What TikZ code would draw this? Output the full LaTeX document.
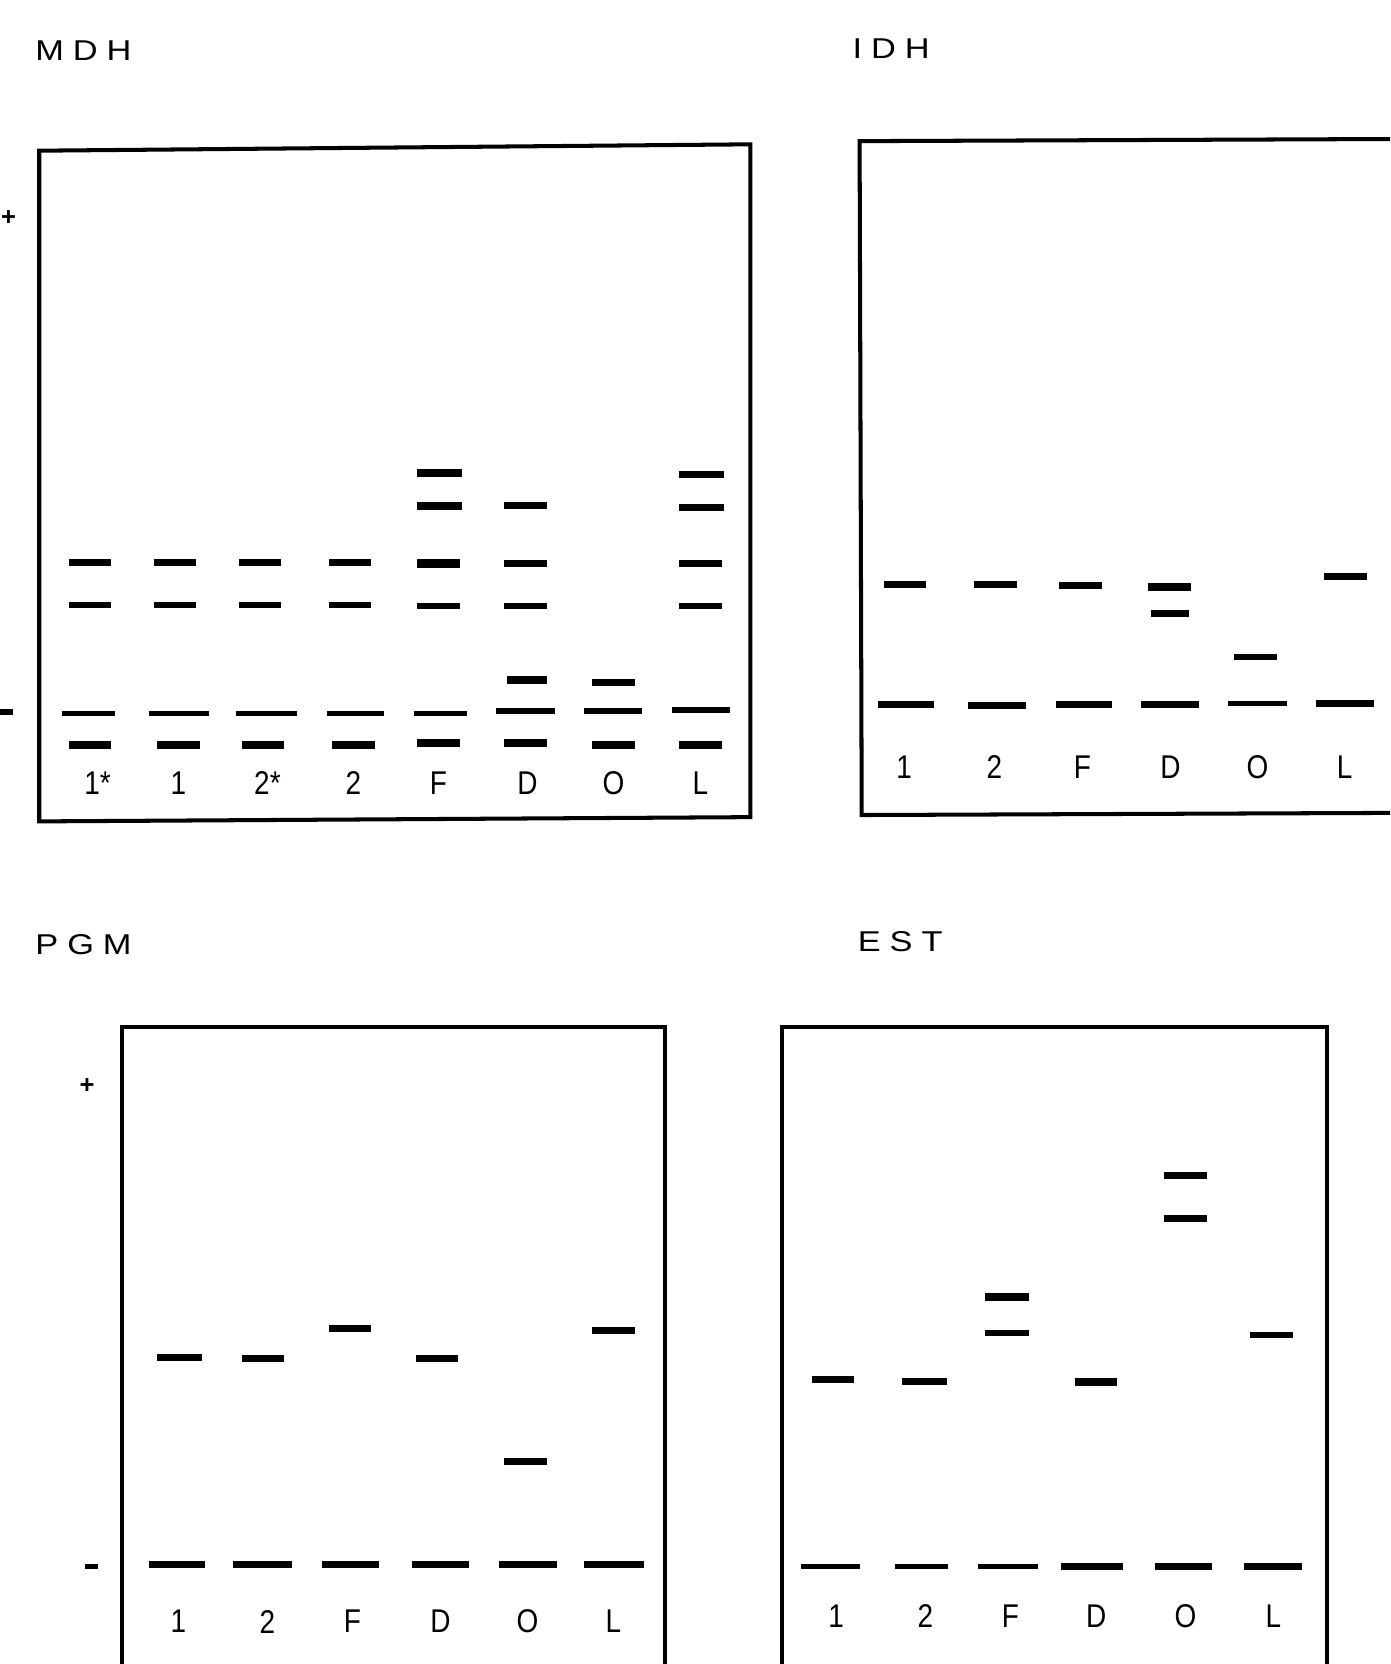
\documentclass[tikz,border=0pt]{standalone}
\usepackage{fontspec}
\setmainfont{Liberation Sans}
\newcommand\bnd[3]{\draw[bandst] (#1,#3) -- (#2,#3);}
\newcommand\bndt[3]{\draw[bandst,line width=2.4pt] (#1,#3) -- (#2,#3);}
\newcommand\bndk[3]{\draw[bandst,line width=3.8pt] (#1,#3) -- (#2,#3);}
\begin{document}
\begin{tikzpicture}[x=0.5pt,y=-0.5pt,
  gelbox/.style={line width=1.9pt,line join=miter},
  bandst/.style={line width=3.2pt,line cap=butt},
  minusst/.style={line width=2.6pt,line cap=butt},
  titlest/.style={anchor=west,inner sep=0pt,font=\fontsize{13.5}{13.5}\selectfont},
  lanest/.style={inner sep=0pt,font=\fontsize{15.5}{15.5}\selectfont},
  markst/.style={inner sep=0pt,font=\bfseries\fontsize{12}{12}\selectfont}]
\useasboundingbox (0,0) rectangle (1310,1568);
% ---------------- MDH ----------------
\node[titlest] (tMDH) at (33,48) {\scalebox{1.2}[1]{M\hspace{3.5pt}D\hspace{3.5pt}H}};
\draw[gelbox] (37,142) -- (707,136) -- (707,770) -- (37,774) -- cycle;
\node[markst] (mpA) at (8,205) {+};
\coordinate (mmA1) at (0,671); \coordinate (mmA2) at (12,671);
\draw[minusst] (mmA1) -- (mmA2);
\bnd{65}{105}{530}\bnd{65}{105}{570}\bndt{58}{108}{672}\bndk{65}{105}{702}
\bnd{145}{185}{530}\bnd{145}{185}{570}\bndt{140}{197}{672}\bndk{148}{188}{702}
\bnd{225}{265}{530}\bnd{225}{265}{570}\bndt{222}{280}{672}\bndk{228}{268}{702}
\bnd{310}{350}{530}\bnd{310}{350}{570}\bndt{308}{362}{672}\bndk{313}{353}{702}
\bndk{393}{435}{446}\bndk{393}{435}{477}\bndk{393}{433}{531}\bnd{393}{433}{571}\bndt{390}{440}{672}\bndk{393}{433}{700}
\bnd{475}{515}{476}\bnd{475}{515}{531}\bnd{475}{515}{571}\bndk{478}{515}{641}\bndt{467}{523}{670}\bndk{475}{515}{700}
\bnd{558}{598}{643}\bndt{550}{605}{670}\bndk{558}{598}{702}
\bnd{640}{682}{447}\bnd{640}{682}{478}\bnd{640}{680}{531}\bnd{640}{680}{571}\bndt{633}{688}{669}\bndk{640}{680}{702}
\node[lanest] (a1s) at (92,738) {\scalebox{0.85}[1]{1*}};
\node[lanest] (a1) at (168,738) {\scalebox{0.85}[1]{1}};
\node[lanest] (a2s) at (252,738) {\scalebox{0.85}[1]{2*}};
\node[lanest] (a2) at (333,738) {\scalebox{0.85}[1]{2}};
\node[lanest] (aF) at (413,738) {\scalebox{0.85}[1]{F}};
\node[lanest] (aD) at (497,738) {\scalebox{0.85}[1]{D}};
\node[lanest] (aO) at (578,738) {\scalebox{0.85}[1]{O}};
\node[lanest] (aL) at (660,738) {\scalebox{0.85}[1]{L}};
% ---------------- IDH ----------------
\node[titlest] (tIDH) at (803,46) {\scalebox{1.2}[1]{I\hspace{3.5pt}D\hspace{3.5pt}H}};
\draw[gelbox] (1310,131) -- (810,133) -- (812,768) -- (1310,766);
\bnd{833}{873}{551}\bnd{918}{958}{551}\bnd{998}{1038}{552}\bndk{1082}{1122}{553}\bnd{1085}{1120}{578}\bnd{1163}{1203}{619}\bnd{1248}{1288}{543}
\bnd{827}{880}{664}\bnd{912}{967}{665}\bnd{995}{1048}{664}\bnd{1075}{1130}{664}\bndt{1157}{1213}{663}\bnd{1240}{1295}{663}
\node[lanest] (b1) at (852,723) {\scalebox{0.85}[1]{1}};
\node[lanest] (b2) at (937,723) {\scalebox{0.85}[1]{2}};
\node[lanest] (bF) at (1020,723) {\scalebox{0.85}[1]{F}};
\node[lanest] (bD) at (1103,723) {\scalebox{0.85}[1]{D}};
\node[lanest] (bO) at (1185,723) {\scalebox{0.85}[1]{O}};
\node[lanest] (bL) at (1267,723) {\scalebox{0.85}[1]{L}};
% ---------------- PGM ----------------
\node[titlest] (tPGM) at (33,890) {\scalebox{1.2}[1]{P\hspace{3.5pt}G\hspace{3.5pt}M}};
\draw[gelbox] (115,1568) -- (115,968) -- (627,968) -- (627,1568);
\node[markst] (mpC) at (82,1023) {+};
\coordinate (mmC1) at (80,1476); \coordinate (mmC2) at (92,1476);
\draw[minusst] (mmC1) -- (mmC2);
\bnd{148}{190}{1279}\bnd{228}{268}{1280}\bnd{310}{350}{1252}\bnd{392}{432}{1280}\bnd{475}{515}{1377}\bnd{558}{598}{1254}
\bnd{140}{193}{1474}\bnd{220}{275}{1474}\bnd{303}{357}{1474}\bnd{388}{442}{1474}\bnd{470}{525}{1474}\bnd{550}{607}{1474}
\node[lanest] (c1) at (168,1528) {\scalebox{0.85}[1]{1}};
\node[lanest] (c2) at (252,1528) {\scalebox{0.85}[1]{2}};
\node[lanest] (cF) at (332,1528) {\scalebox{0.85}[1]{F}};
\node[lanest] (cD) at (415,1528) {\scalebox{0.85}[1]{D}};
\node[lanest] (cO) at (497,1528) {\scalebox{0.85}[1]{O}};
\node[lanest] (cL) at (578,1528) {\scalebox{0.85}[1]{L}};
% ---------------- EST ----------------
\node[titlest] (tEST) at (808,887) {\scalebox{1.2}[1]{E\hspace{3.5pt}S\hspace{3.5pt}T}};
\draw[gelbox] (737,1568) -- (737,968) -- (1250,968) -- (1250,1568);
\bnd{765}{805}{1300}\bnd{850}{892}{1302}\bndk{928}{970}{1222}\bnd{928}{970}{1256}\bndk{1013}{1053}{1302}\bnd{1097}{1137}{1108}\bnd{1097}{1137}{1148}\bnd{1178}{1218}{1258}
\bndt{755}{810}{1476}\bndt{843}{893}{1476}\bndt{922}{978}{1476}\bnd{1000}{1058}{1476}\bnd{1088}{1142}{1476}\bnd{1172}{1227}{1476}
\node[lanest] (d1) at (788,1523) {\scalebox{0.85}[1]{1}};
\node[lanest] (d2) at (872,1523) {\scalebox{0.85}[1]{2}};
\node[lanest] (dF) at (952,1523) {\scalebox{0.85}[1]{F}};
\node[lanest] (dD) at (1033,1523) {\scalebox{0.85}[1]{D}};
\node[lanest] (dO) at (1117,1523) {\scalebox{0.85}[1]{O}};
\node[lanest] (dL) at (1200,1523) {\scalebox{0.85}[1]{L}};
\end{tikzpicture}
\end{document}
